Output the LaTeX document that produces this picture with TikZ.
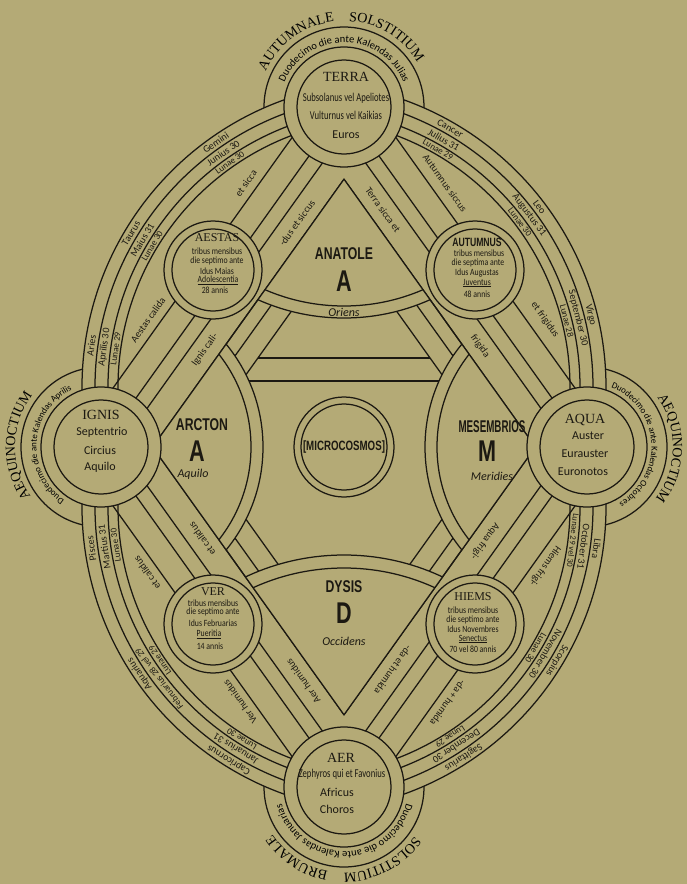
\documentclass[tikz,border=0pt]{standalone}
\usepackage{fontspec}
\setmainfont{Liberation Serif}
\newfontfamily\hand{Carlito}
\newfontfamily\narrowb[FakeStretch=0.72]{Liberation Sans}
\usetikzlibrary{decorations.text,calc}
\definecolor{paper}{RGB}{180,170,118}
\definecolor{ink}{RGB}{28,25,18}
\newcommand\fs[1]{\fontsize{#1}{#1}\selectfont}
\newcommand\quadlines{%
  \foreach \r in {305,292,279,269}{\draw (387,387) ++(179:\r) arc[start angle=179,end angle=256,radius=\r];}
  \draw (81.07,432.75) -- (324.07,92.75);
  \draw (101,447) -- (344,107);
  \draw (113.2,455.72) -- (356.2,115.72);
  \draw (152.6,447) -- (344,179.2);
  \draw (169.9,447) -- (344,203.4);
  \draw (194.3,447) -- (344,237.6);
}
\newcommand\zt[6][btxt]{\node[#1,rotate={270-#4}] at ([shift={(#2,#3)}]#4:#5) {#6};}
\begin{document}
\begin{tikzpicture}[x=1pt,y=-1pt,line width=1.25pt,color=ink,
  btxt/.style={font=\hand\fs{10},inner sep=0pt},
  ltxt/.style={font=\hand\fs{9},inner sep=0pt},
  sltxt/.style={font=\hand\fs{8.5},inner sep=0pt},
  stxt/.style={font=\hand\fs{9.5},inner sep=0pt},
  etxt/.style={font=\hand\fs{12},inner sep=0pt},
  ehead/.style={font=\fs{14},inner sep=0pt},
  shead/.style={font=\fs{12},inner sep=0pt},
  chead/.style={font=\narrowb\bfseries\fs{17},inner sep=0pt},
  cbig/.style={font=\narrowb\bfseries\fs{30},inner sep=0pt},
  ctxt/.style={font=\hand\itshape\fs{12},inner sep=0pt}]
\fill[paper] (0,0) rectangle (687,884);
\useasboundingbox (0,0) rectangle (687,884);
% ---------- quadrant lines
\quadlines
\begin{scope}[shift={(688,0)},xscale=-1]\quadlines\end{scope}
\begin{scope}[shift={(0,894)},yscale=-1]\quadlines\end{scope}
\begin{scope}[shift={(688,894)},xscale=-1,yscale=-1]\quadlines\end{scope}
% ---------- inner cross lines
\draw (258,358) -- (430,358);
\draw (241.6,381) -- (446.4,381);
% ---------- microcosmos
\draw[fill=paper] (344,447) circle[radius=50];
\draw (344,447) circle[radius=43];
\node[font=\narrowb\bfseries\fs{13}] (micro) at (344,447) {\resizebox{82pt}{!}{[MICROCOSMOS]}};
% ---------- cardinal regions
\begin{scope}
\clip (344,179.2) -- (535.4,447) -- (344,714.8) -- (152.6,447) -- cycle;
\fill[paper] (344,107) circle[radius=211];
\fill[paper] (344,787) circle[radius=232];
\fill[paper] (101,447) circle[radius=162];
\fill[paper] (587,447) circle[radius=162];
\draw (344,107) circle[radius=211] (344,107) circle[radius=199];
\draw (344,787) circle[radius=232] (344,787) circle[radius=219];
\draw (101,447) circle[radius=162] (101,447) circle[radius=150];
\draw (587,447) circle[radius=162] (587,447) circle[radius=150];
\end{scope}
\draw (344,179.2) -- (535.4,447) -- (344,714.8) -- (152.6,447) -- cycle;
% ---------- season circles
\foreach \x/\y in {213/270,475/270,213/624,475/624}{
  \draw[fill=paper] (\x,\y) circle[radius=49];
  \draw (\x,\y) circle[radius=41];}
% ---------- element circles
\foreach \x/\y in {344/107,344/787,101/447,587/447}{
  \draw[fill=paper] (\x,\y) circle[radius=60];
  \draw (\x,\y) circle[radius=47];}
% ---------- solstice / equinox rings
\draw (344,107) ++(179.4:80) arc[start angle=179.4,end angle=360.6,radius=80];
\draw (344,787) ++(-0.6:80) arc[start angle=-0.6,end angle=180.6,radius=80];
\draw (101,447) ++(103:80) arc[start angle=103,end angle=257,radius=80];
\draw (587,447) ++(-77:80) arc[start angle=-77,end angle=77,radius=80];
% ring texts
\path[decorate,decoration={text along path,text align=center,text={|\hand\fs{10.5}|Duodecimo die ante Kalendas Julias}}] (344,107) ++(185:64.5) arc[start angle=185,end angle=355,radius=64.5];
\path[decorate,decoration={text along path,text align=center,text={|\hand\fs{10.5}|Duodecimo die ante Kalendas Januarias}}] (344,787) ++(0:64.5) arc[start angle=0,end angle=180,radius=64.5];
\path[decorate,decoration={text along path,text align=center,text={|\hand\fs{9}|Duodecimo die ante Kalendas Aprilis}}] (101,447) ++(108:64.5) arc[start angle=108,end angle=260,radius=64.5];
\path[decorate,decoration={text along path,text align=center,text={|\hand\fs{9}|Duodecimo die ante Kalendas Octobres}}] (587,447) ++(-80:64.5) arc[start angle=-80,end angle=72,radius=64.5];
% big ring labels
\path[decorate,decoration={text along path,text align=center,text={|\fs{14}|AUTUMNALE}}] (344,107) ++(200:86) arc[start angle=200,end angle=268,radius=86];
\path[decorate,decoration={text along path,text align=center,text={|\fs{14}|SOLSTITIUM}}] (344,107) ++(267:86) arc[start angle=267,end angle=335,radius=86];
\path[decorate,decoration={text along path,text align=center,text={|\fs{14}|SOLSTITIUM}}] (344,787) ++(28:86) arc[start angle=28,end angle=97,radius=86];
\path[decorate,decoration={text along path,text align=center,text={|\fs{14}|BRUMALE}}] (344,787) ++(94:86) arc[start angle=94,end angle=153,radius=86];
\path[decorate,decoration={text along path,text align=center,text={|\fs{14}|AEQUINOCTIUM}}] (101,447) ++(140:86) arc[start angle=140,end angle=222,radius=86];
\path[decorate,decoration={text along path,text align=center,text={|\fs{14}|AEQUINOCTIUM}}] (587,447) ++(-40:86) arc[start angle=-40,end angle=42,radius=86];
% ---------- element texts
\node[ehead] at (346,77) {TERRA};
\node[etxt] at (346,98) {\scalebox{0.72}[1]{Subsolanus vel Apeliotes}};
\node[etxt] at (346,115) {\scalebox{0.72}[1]{Vulturnus vel Kaikias}};
\node[etxt] at (346,135) {Euros};
\node[ehead] at (585,420) {AQUA};
\node[etxt] at (588,436) {Auster};
\node[etxt] at (585,454) {Eurauster};
\node[etxt] at (583,472) {Euronotos};
\node[ehead] at (101,415) {IGNIS};
\node[etxt] at (102,432) {Septentrio};
\node[etxt] at (100,450) {Circius};
\node[etxt] at (100,467) {Aquilo};
\node[ehead] at (341,758) {AER};
\node[etxt] at (342,774) {\scalebox{0.72}[1]{Zephyros qui et Favonius}};
\node[etxt] at (337,792) {Africus};
\node[etxt] at (337,809) {Choros};
% ---------- season texts
\begin{scope}[every node/.style={stxt}]
\node[shead] at (217,238) {AESTAS};
\node at (217,251) {\scalebox{0.82}[1]{tribus mensibus}};
\node at (217,261) {\scalebox{0.82}[1]{die septimo ante}};
\node at (217,271) {\scalebox{0.82}[1]{Idus Maias}};
\node at (218,280) {\scalebox{0.82}[1]{\underline{Adolescentia}}};
\node at (215,290) {\scalebox{0.82}[1]{28 annis}};
\node[font=\narrowb\bfseries\fs{12}] at (477,242) {AUTUMNUS};
\node at (479,253) {\scalebox{0.82}[1]{tribus mensibus}};
\node at (478,263) {\scalebox{0.82}[1]{die septima ante}};
\node at (477,273) {\scalebox{0.82}[1]{Idus Augustas}};
\node at (477,283) {\scalebox{0.82}[1]{\underline{Juventus}}};
\node at (477,294) {\scalebox{0.82}[1]{48 annis}};
\node[shead] at (213,592) {VER};
\node at (213,603) {\scalebox{0.82}[1]{tribus mensibus}};
\node at (213,612) {\scalebox{0.82}[1]{die septimo ante}};
\node at (213,623) {\scalebox{0.82}[1]{Idus Februarias}};
\node at (209,634) {\scalebox{0.82}[1]{\underline{Pueritia}}};
\node at (210,646) {\scalebox{0.82}[1]{14 annis}};
\node[shead] at (473,597) {HIEMS};
\node at (473,610) {\scalebox{0.82}[1]{tribus mensibus}};
\node at (473,620) {\scalebox{0.82}[1]{die septimo ante}};
\node at (473,629) {\scalebox{0.82}[1]{Idus Novembres}};
\node at (473,639) {\scalebox{0.82}[1]{\underline{Senectus}}};
\node at (473,649) {\scalebox{0.82}[1]{70 vel 80 annis}};
\end{scope}
% ---------- cardinal texts
\node[chead] at (202,425) {ARCTON};
\node[cbig] at (197,451) {A};
\node[ctxt] at (193,474) {Aquilo};
\node[chead] at (492,427) {\scalebox{0.8}[1]{MESEMBRIOS}};
\node[cbig] at (487,451) {M};
\node[ctxt] at (492,476) {Meridies};
\node[chead] at (344,254) {ANATOLE};
\node[cbig] at (344,281) {A};
\node[ctxt] at (344,312) {Oriens};
\node[chead] at (344,587) {DYSIS};
\node[cbig] at (344,613) {D};
\node[ctxt] at (344,641) {Occidens};
% ---------- straight band texts
\begin{scope}[every node/.style={btxt}]
\node[rotate=54.4] at (148,320) {Aestas calida};
\node[rotate=54.4] at (246,183) {et sicca};
\node[rotate=54.4] at (205,350) {Ignis cali-};
\node[rotate=54.4] at (297,223) {-dus et siccus};
\node[rotate=-54.4] at (445,183) {Autumnus siccus};
\node[rotate=-54.4] at (545,320) {et frigidus};
\node[rotate=-54.4] at (383,210) {Terra sicca et};
\node[rotate=-54.4] at (480,346) {frigida};
\node[rotate=234.4] at (545,566) {Hiems frigi-};
\node[rotate=234.4] at (448,703) {-da + humida};
\node[rotate=234.4] at (485,541) {Aqua frigi-};
\node[rotate=234.4] at (393,670) {-da et humida};
\node[rotate=125.6] at (147,573) {et calidus};
\node[rotate=125.6] at (240,702) {Ver humidus};
\node[rotate=125.6] at (202,539) {et calidus};
\node[rotate=125.6] at (303,681) {Aer humidus};
\end{scope}
% ---------- zodiac / months / moons
\zt{387}{387}{188}{298.5}{Aries}
\zt{387}{387}{188}{285.5}{Aprilis 30}
\zt[ltxt]{387}{387}{188}{274}{Lunae 29}
\zt{387}{387}{211}{298.5}{Taurus}
\zt{387}{387}{211}{285.5}{Maius 31}
\zt[ltxt]{387}{387}{211}{274}{Lunae 30}
\zt{387}{387}{235}{298.5}{Gemini}
\zt{387}{387}{235}{285.5}{Junius 30}
\zt[ltxt]{387}{387}{235}{274}{Lunae 30}
\zt{301}{387}{300}{298.5}{Cancer}
\zt{301}{387}{300}{285.5}{Julius 31}
\zt[ltxt]{301}{387}{300}{274}{Lunae 29}
\zt{301}{387}{323}{298.5}{Leo}
\zt{301}{387}{323}{285.5}{Augustus 31}
\zt[ltxt]{301}{387}{323}{274}{Lunae 30}
\zt{301}{387}{346}{298.5}{Virgo}
\zt{301}{387}{346}{285.5}{September 30}
\zt[ltxt]{301}{387}{346}{274}{Lunae 28}
\zt{301}{507}{8}{298.5}{Libra}
\zt{301}{507}{8}{285.5}{October 31}
\zt[sltxt]{301}{507}{7}{274}{Lunae 29 vel 30}
\zt{301}{507}{31}{298.5}{Scorpius}
\zt{301}{507}{31}{285.5}{November 30}
\zt[ltxt]{301}{507}{31}{274}{Lunae 30}
\zt{301}{507}{57}{298.5}{Sagittarius}
\zt{301}{507}{57}{285.5}{December 30}
\zt[ltxt]{301}{507}{57}{274}{Lunae 29}
\zt{387}{507}{172}{298.5}{Pisces}
\zt{387}{507}{172}{285.5}{Martius 31}
\zt[ltxt]{387}{507}{172}{274}{Lunae 30}
\zt{387}{507}{146}{298.5}{Aquarius}
\zt[ltxt]{387}{507}{143}{285.5}{Februarius 28 vel 29}
\zt[ltxt]{387}{507}{146}{274}{Lunae 29}
\zt{387}{507}{122}{298.5}{Capricornus}
\zt{387}{507}{122}{285.5}{Januarius 31}
\zt[ltxt]{387}{507}{122}{274}{Lunae 30}
\end{tikzpicture}
\end{document}
